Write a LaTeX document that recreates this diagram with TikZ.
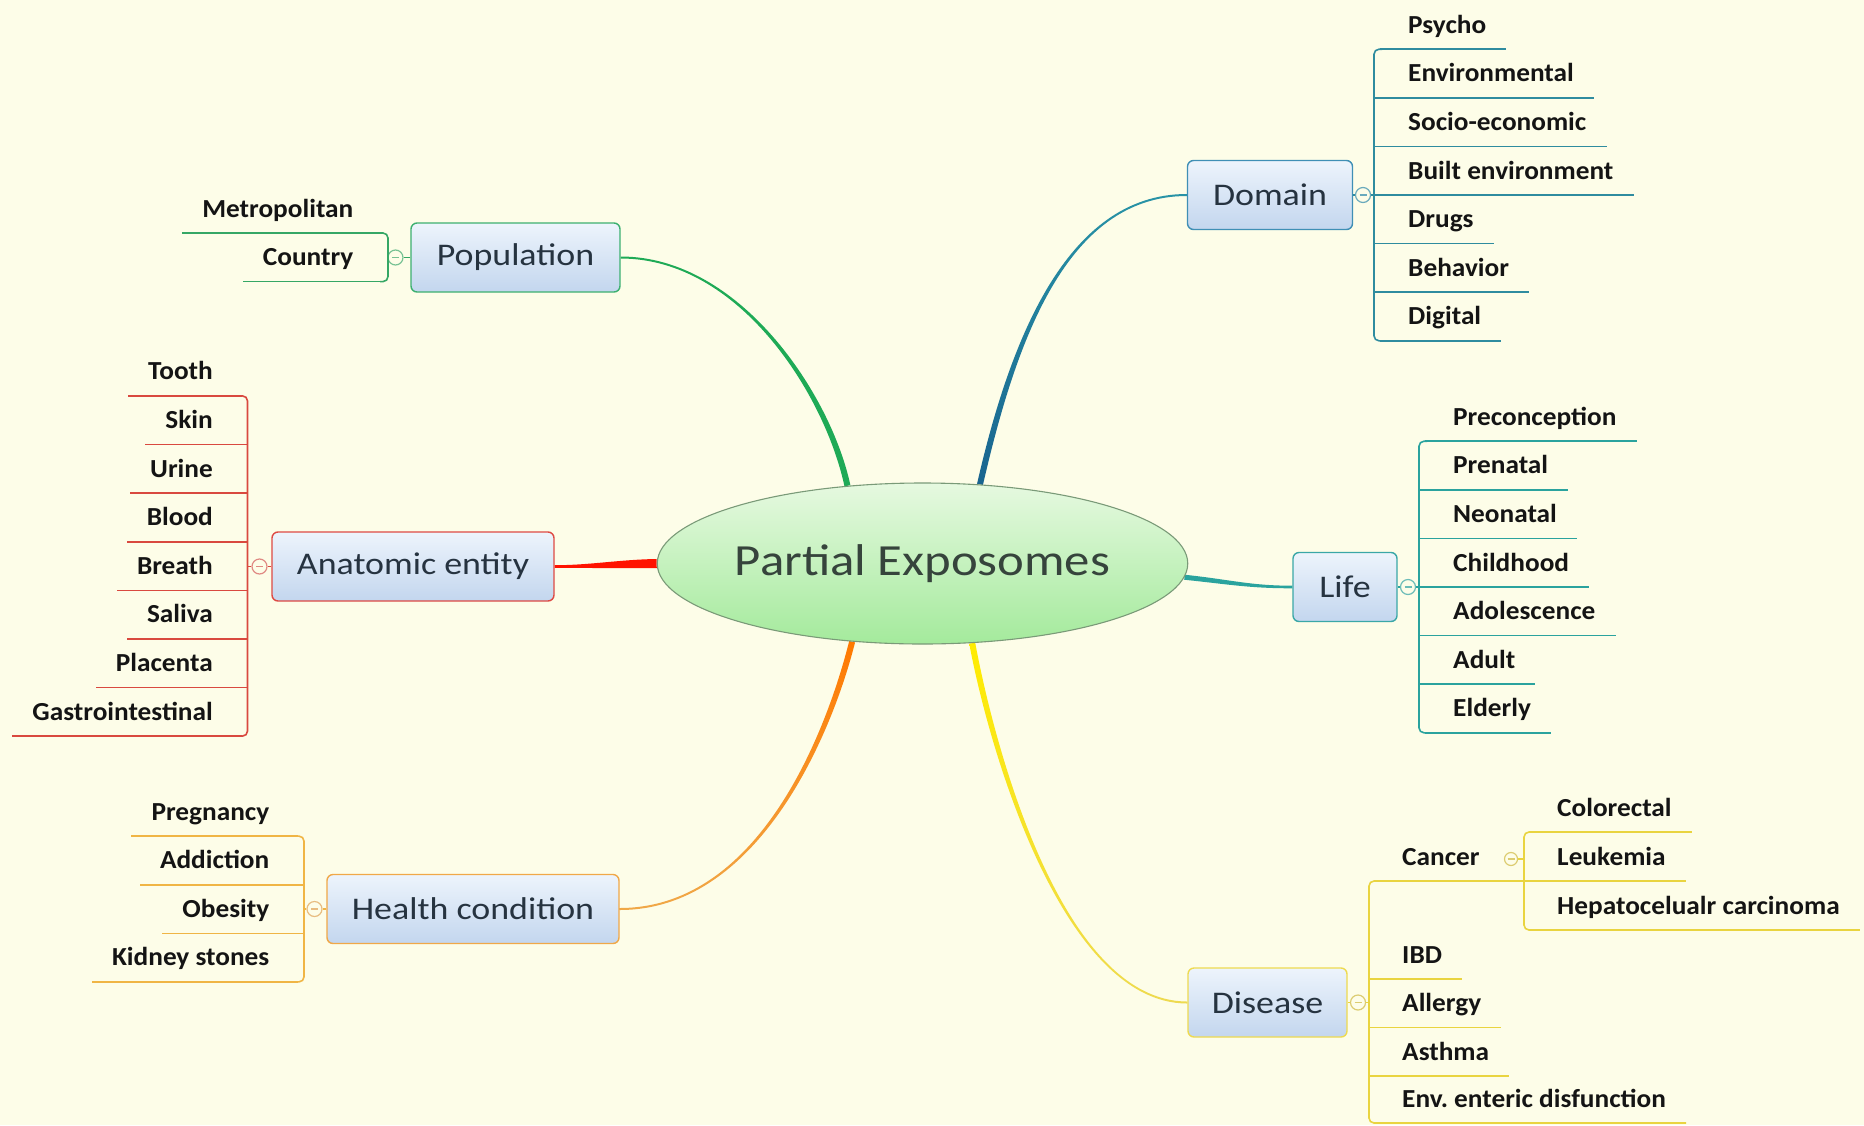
\documentclass[tikz,border=0pt]{standalone}
\usepackage{fontspec}
\setmainfont{Carlito}
\newfontfamily\topicfont[FakeStretch=1.14]{Carlito}
\newfontfamily\leaffont[FakeStretch=1.05]{Carlito}
\usetikzlibrary{shapes.geometric,calc}
\frenchspacing

\definecolor{paper}{HTML}{FDFDE8}
\definecolor{boxtop}{HTML}{EDF4FC}
\definecolor{boxbot}{HTML}{C3D6EE}
\definecolor{boxtext}{HTML}{263340}
\definecolor{leaftext}{HTML}{141414}
\definecolor{roottop}{HTML}{E6F9E0}
\definecolor{rootbot}{HTML}{A4EA9C}
\definecolor{rootline}{HTML}{7A9A78}
\definecolor{roottext}{HTML}{36443C}
% per-branch colours
\definecolor{domline}{HTML}{3F8FB5}\definecolor{domleaf}{HTML}{2F8C9F}\definecolor{domfold}{HTML}{6AAABC}
\definecolor{domtop}{HTML}{2893A6}\definecolor{dombot}{HTML}{19648F}
\definecolor{lifeline}{HTML}{3AA7A7}\definecolor{lifeleaf}{HTML}{2AA39E}\definecolor{lifefold}{HTML}{6CBCB8}
\definecolor{disline}{HTML}{EEDA50}\definecolor{disleaf}{HTML}{E9D440}\definecolor{disfold}{HTML}{DCCC70}
\definecolor{popline}{HTML}{3DB070}\definecolor{popleaf}{HTML}{35A765}\definecolor{popfold}{HTML}{78C294}
\definecolor{poplink}{HTML}{1EAA56}
\definecolor{analine}{HTML}{DE4A44}\definecolor{analeaf}{HTML}{D9493F}\definecolor{anafold}{HTML}{E08A84}
\definecolor{healline}{HTML}{F0A848}\definecolor{healleaf}{HTML}{F0B545}\definecolor{healfold}{HTML}{E8BC80}

\pgfdeclarelayer{bg}
\pgfsetlayers{bg,main}

\tikzset{
  topic/.style={draw=#1, line width=1.4pt, rounded corners=6pt, top color=boxtop, bottom color=boxbot,
    text=boxtext, font=\topicfont\fontsize{31.5}{36}\selectfont, inner sep=0pt, minimum height=69pt},
  leaf/.style={inner sep=0pt, text=leaftext, font=\leaffont\bfseries\fontsize{26}{30}\selectfont},
  stem/.style={draw=#1, line width=1.6pt},
  spine/.style={draw=#1, line width=1.6pt, rounded corners=5pt},
  fold/.style={circle, draw=#1, line width=1.2pt, fill=paper, inner sep=0pt, minimum size=15pt,
    path picture={\draw[#1, line width=1.1pt] ([xshift=-3.5pt]path picture bounding box.center)
      -- ([xshift=3.5pt]path picture bounding box.center);}},
}

% tapered curved link: start, control 1, control 2, end, half width at start, half width at end, paint
\newcommand\taperlink[7]{%
  \path[#7] ($(#1)!#5!90:(#2)$) .. controls ($(#2)!#5!-90:(#1)$) and ($(#3)!#6!90:(#4)$) .. ($(#4)!#6!-90:(#3)$)
    -- ($(#4)!#6!90:(#3)$) .. controls ($(#3)!#6!-90:(#4)$) and ($(#2)!#5!90:(#1)$) .. ($(#1)!#5!-90:(#2)$) -- cycle;}

% leaves stacked to the right of a spine: prefix, colour, spine x, first underline y, count, labels
\newcommand\rightleaves[6]{%
  \foreach \lbl [count=\i] in {#6}{%
    \pgfmathsetmacro\yy{#4+(\i-1)*48.6}%
    \pgfmathsetmacro\xs{or(\i==1,\i==#5) ? #3+6 : #3}%
    \node[leaf, anchor=base west] (#1-\i) at (#3+34,\yy-16) {\lbl};
    \draw[stem=#2] (\xs,\yy) -- ($(#1-\i.base east)+(20,16)$);
  }%
  \pgfmathsetmacro\ya{#4}\pgfmathsetmacro\yb{#4+(#5-1)*48.6}%
  \draw[spine=#2] (#3+8,\ya) -- (#3,\ya) -- (#3,\yb) -- (#3+8,\yb);
}
% leaves stacked to the left of a spine
\newcommand\leftleaves[6]{%
  \foreach \lbl [count=\i] in {#6}{%
    \pgfmathsetmacro\yy{#4+(\i-1)*48.6}%
    \pgfmathsetmacro\xs{or(\i==1,\i==#5) ? #3-6 : #3}%
    \node[leaf, anchor=base east] (#1-\i) at (#3-34.5,\yy-16) {\lbl};
    \draw[stem=#2] (\xs,\yy) -- ($(#1-\i.base west)+(-20,16)$);
  }%
  \pgfmathsetmacro\ya{#4}\pgfmathsetmacro\yb{#4+(#5-1)*48.6}%
  \draw[spine=#2] (#3-8,\ya) -- (#3,\ya) -- (#3,\yb) -- (#3-8,\yb);
}

\begin{document}
\begin{tikzpicture}[x=1pt,y=-1pt]
\begin{pgfonlayer}{bg}
  \fill[paper] (0,0) rectangle (1864,1125);
\end{pgfonlayer}
\useasboundingbox (0,0) rectangle (1864,1125);

% central topic
\node[ellipse, draw=rootline, line width=1.1pt, top color=roottop, bottom color=rootbot,
  minimum width=517pt, minimum height=161pt, inner sep=0pt, text=roottext,
  font=\topicfont\fontsize{44.5}{50}\selectfont] (root) at (922.5,563.5) {Partial Exposomes};

% main topics
\node[topic=domline,  minimum width=165pt] (dom)  at (1270,195)     {Domain};
\node[topic=lifeline, minimum width=104pt] (life) at (1345,587)     {Life};
\node[topic=disline,  minimum width=159pt] (dis)  at (1267.5,1002.5) {Disease};
\node[topic=popline,  minimum width=209pt] (pop)  at (515.5,257.5)  {Population};
\node[topic=analine,  minimum width=282pt] (ana)  at (413,566.5)    {Anatomic entity};
\node[topic=healline, minimum width=292pt] (heal) at (473,909)      {Health condition};

% control points of the main links
\coordinate (dom-c1) at (1012,345);  \coordinate (dom-c2) at (1065,195);
\coordinate (pop-c1) at (828,395);   \coordinate (pop-c2) at (740,257.5);
\coordinate (ana-c1) at (620,564);   \coordinate (ana-c2) at (590,566.5);
\coordinate (life-c1) at (1230,582); \coordinate (life-c2) at (1250,587);
\coordinate (heal-c1) at (830,730);  \coordinate (heal-c2) at (760,909);
\coordinate (dis-c1) at (990,740);   \coordinate (dis-c2) at (1060,1002.5);

\begin{pgfonlayer}{bg}
  \taperlink{root.54}{dom-c1}{dom-c2}{dom.west}{3pt}{1pt}{top color=domtop, bottom color=dombot}
  \taperlink{root.134}{pop-c1}{pop-c2}{pop.east}{3pt}{1pt}{fill=poplink}
  \taperlink{root.180}{ana-c1}{ana-c2}{ana.east}{4.5pt}{1.3pt}{fill=red!85!orange}
  \taperlink{root.-3.3}{life-c1}{life-c2}{life.west}{2.5pt}{1.3pt}{fill=lifeleaf}
  \taperlink{root.228}{heal-c1}{heal-c2}{heal.east}{3pt}{1pt}{top color=orange!95!red, bottom color=healline}
  \taperlink{root.-58}{dis-c1}{dis-c2}{dis.west}{3pt}{1pt}{top color=yellow!85!orange, bottom color=disline}
\end{pgfonlayer}

% Domain
\node[fold=domfold] (dom-f) at (1363,195) {};
\coordinate (dom-v) at (1374,195);
\draw[stem=domleaf] (dom.east) -- (dom-f.west);
\draw[stem=domleaf] (dom-f.east) -- (dom-v);
\rightleaves{dl}{domleaf}{1374}{49.2}{7}{Psycho,Environmental,Socio-economic,Built environment,Drugs,Behavior,Digital}

% Life
\node[fold=lifefold] (life-f) at (1408,587) {};
\coordinate (life-v) at (1419,587);
\draw[stem=lifeleaf] (life.east) -- (life-f.west);
\draw[stem=lifeleaf] (life-f.east) -- (life-v);
\rightleaves{ll}{lifeleaf}{1419}{441.2}{7}{Preconception,Prenatal,Neonatal,Childhood,Adolescence,Adult,Elderly}

% Population
\node[fold=popfold] (pop-f) at (395.5,257.5) {};
\coordinate (pop-v) at (388,257.5);
\draw[stem=popleaf] (pop.west) -- (pop-f.east);
\draw[stem=popleaf] (pop-f.west) -- (pop-v);
\leftleaves{pl}{popleaf}{388}{233}{2}{Metropolitan,Country}

% Anatomic entity
\node[fold=anafold] (ana-f) at (259.5,566.5) {};
\coordinate (ana-v) at (247.5,566.5);
\draw[stem=analeaf] (ana.west) -- (ana-f.east);
\draw[stem=analeaf] (ana-f.west) -- (ana-v);
\leftleaves{al}{analeaf}{247.5}{395.9}{8}{Tooth,Skin,Urine,Blood,Breath,Saliva,Placenta,Gastrointestinal}

% Health condition
\node[fold=healfold] (heal-f) at (314.5,909) {};
\coordinate (heal-v) at (304,909);
\draw[stem=healleaf] (heal.west) -- (heal-f.east);
\draw[stem=healleaf] (heal-f.west) -- (heal-v);
\leftleaves{hl}{healleaf}{304}{836.1}{4}{Pregnancy,Addiction,Obesity,Kidney stones}

% Disease
\node[fold=disfold] (dis-f) at (1358,1002.5) {};
\coordinate (dis-v) at (1369,1002.5);
\draw[stem=disleaf] (dis.east) -- (dis-f.west);
\draw[stem=disleaf] (dis-f.east) -- (dis-v);
\node[leaf, anchor=base west] (can) at (1402,865) {Cancer};
\node[leaf, anchor=base west] (ibd) at (1402,963) {IBD};
\node[leaf, anchor=base west] (alg) at (1402,1011.5) {Allergy};
\node[leaf, anchor=base west] (ast) at (1402,1060) {Asthma};
\node[leaf, anchor=base west] (env) at (1402,1107) {Env. enteric disfunction};
\coordinate (can-v) at (1524,881);
\draw[spine=disleaf] (can-v) -- (1369,881) -- (1369,1123) -- ($(env.base east)+(20,16)$);
\draw[stem=disleaf] (1369,979) -- ($(ibd.base east)+(20,16)$);
\draw[stem=disleaf] (1369,1027.5) -- ($(alg.base east)+(20,16)$);
\draw[stem=disleaf] (1369,1076) -- ($(ast.base east)+(20,16)$);

% Cancer sub-branch
\node[fold=disfold, minimum size=13pt] (can-f) at (1511,859) {};
\coordinate (can-s) at (1524,859);
\draw[stem=disleaf] (can-f.east) -- (can-s);
\node[leaf, anchor=base west] (col) at (1557,816) {Colorectal};
\node[leaf, anchor=base west] (leu) at (1557,865) {Leukemia};
\node[leaf, anchor=base west] (hep) at (1557,914) {Hepatocelualr carcinoma};
\draw[spine=disleaf] ($(col.base east)+(20,16)$) -- (1524,832) -- (1524,930) -- ($(hep.base east)+(20,16)$);
\draw[stem=disleaf] (can-v) -- ($(leu.base east)+(20,16)$);
\end{tikzpicture}
\end{document}
